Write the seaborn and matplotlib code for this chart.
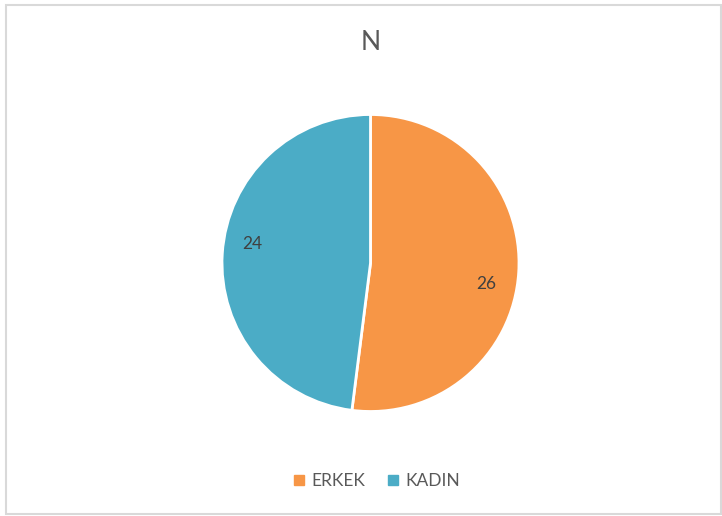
import matplotlib
matplotlib.use("Agg")
import matplotlib.pyplot as plt
import seaborn as sns
from matplotlib.patches import Rectangle
from matplotlib.lines import Line2D

categories = ["ERKEK", "KADIN"]
values = [26, 24]
colors = ["#F79646", "#4BACC6"]
title = "N"

sns.set_theme(style="white")
plt.rcParams["font.family"] = ["Lato", "DejaVu Sans"]

W, H = 722, 516
fig = plt.figure(figsize=(W / 100, H / 100), dpi=100)
fig.patch.set_facecolor("white")

# chart border
fig.patches.append(Rectangle((6 / W, 2 / H), (W - 7) / W, (H - 7) / H,
                             transform=fig.transFigure, fill=False,
                             edgecolor="#D9D9D9", linewidth=1.5))

cx, cy, r = 370.5, 263, 148.5
ax = fig.add_axes([(cx - r) / W, (H - cy - r) / H, 2 * r / W, 2 * r / H])
wedges, texts = ax.pie(values, colors=colors, startangle=90, counterclock=False,
                       labels=[str(v) for v in values], labeldistance=0.8,
                       wedgeprops=dict(edgecolor="white", linewidth=2),
                       textprops=dict(color="#404040", fontsize=12.5))
# Excel-style label placement: nudge toward the vertical centre of each slice
label_shift = [(-0.02, -0.09), (0.0, 0.08)]
for t, (dx, dy) in zip(texts, label_shift):
    x, y = t.get_position()
    t.set_position((x + dx, y + dy))
    t.set_ha("center")
    t.set_va("center")
ax.set_aspect("equal")
ax.set_xlim(-1, 1)
ax.set_ylim(-1, 1)
ax.axis("off")

fig.text(cx / W, 1 - 43 / H, title, ha="center", va="center",
         fontsize=19, color="#595959")

handles = [Line2D([], [], marker="s", linestyle="", markersize=7,
                  markerfacecolor=c, markeredgecolor=c) for c in colors]
fig.legend(handles, categories, loc="center", bbox_to_anchor=(376 / W, 1 - 481 / H),
           ncol=2, frameon=False, fontsize=12.5, labelcolor="#595959",
           handletextpad=0.3, columnspacing=1.2, handlelength=0.8)

fig.savefig("out.png", dpi=100, facecolor="white")
